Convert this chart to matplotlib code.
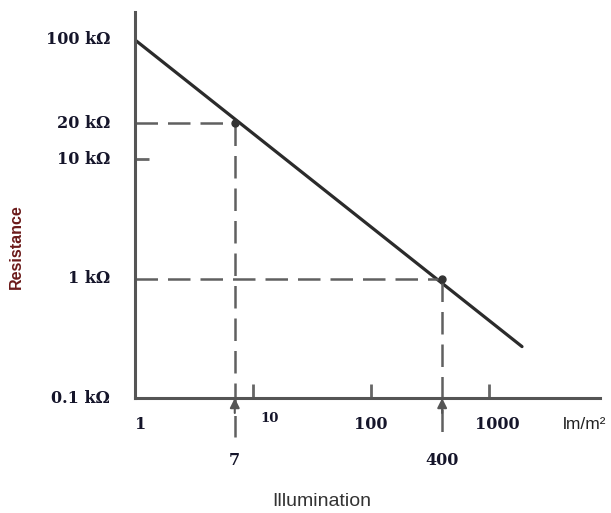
import numpy as np
import matplotlib.pyplot as plt

# LDR characteristic (log-log): illumination in lm/m^2, resistance in kOhm
lux_line = [1, 1900]
res_line = [100, 0.27]

# marked operating points
lux_pts = [7, 400]
res_pts = [20, 1]

# y tick labels (kOhm)
y_vals = [100, 20, 10, 1, 0.1]
y_labels = ['100 k\u03a9', '20 k\u03a9', '10 k\u03a9', '1 k\u03a9', '0.1 k\u03a9']

# x axis labels
x_vals = [1, 10, 100, 1000]
x_labels = ['1', '10', '100', '1000']

serif = 'DejaVu Serif'
sans = 'Liberation Sans'

fig = plt.figure(figsize=(6.11, 5.13), dpi=100)
ax = fig.add_axes([0.221, 0.224, 0.761, 0.753])
ax.set_xscale('log')
ax.set_yscale('log')
ax.set_xlim(1, 8700)
ax.set_ylim(0.1, 172)

for s in ['top', 'right']:
    ax.spines[s].set_visible(False)
for s in ['left', 'bottom']:
    ax.spines[s].set_linewidth(2.2)
    ax.spines[s].set_color('#555555')

# ticks: only the small inward marks
ax.set_xticks([10, 100, 1000])
ax.set_xticks([], minor=True)
ax.set_yticks([10])
ax.set_yticks([], minor=True)
ax.tick_params(axis='both', direction='in', length=10, width=2, color='#666666',
               labelbottom=False, labelleft=False)

# main curve
ax.plot(lux_line, res_line, color='#2b2b2b', lw=2.3, solid_capstyle='round')

# dashed guide lines + points
dash_kw = dict(color='#606060', lw=1.8, ls=(0, (9, 4)), clip_on=False)
for lx, ry in zip(lux_pts, res_pts):
    ax.plot([1, lx], [ry, ry], **dash_kw)
    ax.plot([lx, lx], [ry, 0.047], **dash_kw)
    ax.plot(lx, ry, 'o', color='#333333', ms=5)
    ax.annotate('', xy=(lx, 0.1), xytext=(lx, 0.075),
                arrowprops=dict(arrowstyle='-|>', color='#555555', lw=1.5,
                                mutation_scale=14, shrinkA=0, shrinkB=0),
                annotation_clip=False)

# y labels
for v, lab in zip(y_vals, y_labels):
    ax.annotate(lab, xy=(0, v), xycoords=('axes fraction', 'data'),
                xytext=(-18, 0), textcoords='offset points',
                ha='right', va='center', fontsize=11.5, fontweight='bold',
                family=serif, color='#15152a')

# x labels
x_dx = {1: 4, 10: 12, 100: 0, 1000: 6}
for v, lab in zip(x_vals, x_labels):
    fs = 9.5 if v == 10 else 11.5
    dy = -15 if v == 10 else -19
    ax.annotate(lab, xy=(v, 0), xycoords=('data', 'axes fraction'),
                xytext=(x_dx[v], dy), textcoords='offset points',
                ha='center', va='center', fontsize=fs, fontweight='bold',
                family=serif, color='#15152a')

for v in lux_pts:
    ax.annotate(str(v), xy=(v, 0), xycoords=('data', 'axes fraction'),
                xytext=(0, -45), textcoords='offset points',
                ha='center', va='center', fontsize=11.5, fontweight='bold',
                family=serif, color='#15152a')

fig.text(0.957, 0.172, 'lm/m\u00b2', ha='center', va='center', fontsize=12.5,
         family=sans, color='#222222')
fig.text(0.527, 0.022, 'Illumination', ha='center', va='center', fontsize=14,
         family=sans, color='#333333')
fig.text(0.027, 0.52, 'Resistance', ha='center', va='center', rotation=90,
         fontsize=11.5, fontweight='bold', family=sans, color='#6b1a1a')

fig.savefig('out.png', dpi=100)
